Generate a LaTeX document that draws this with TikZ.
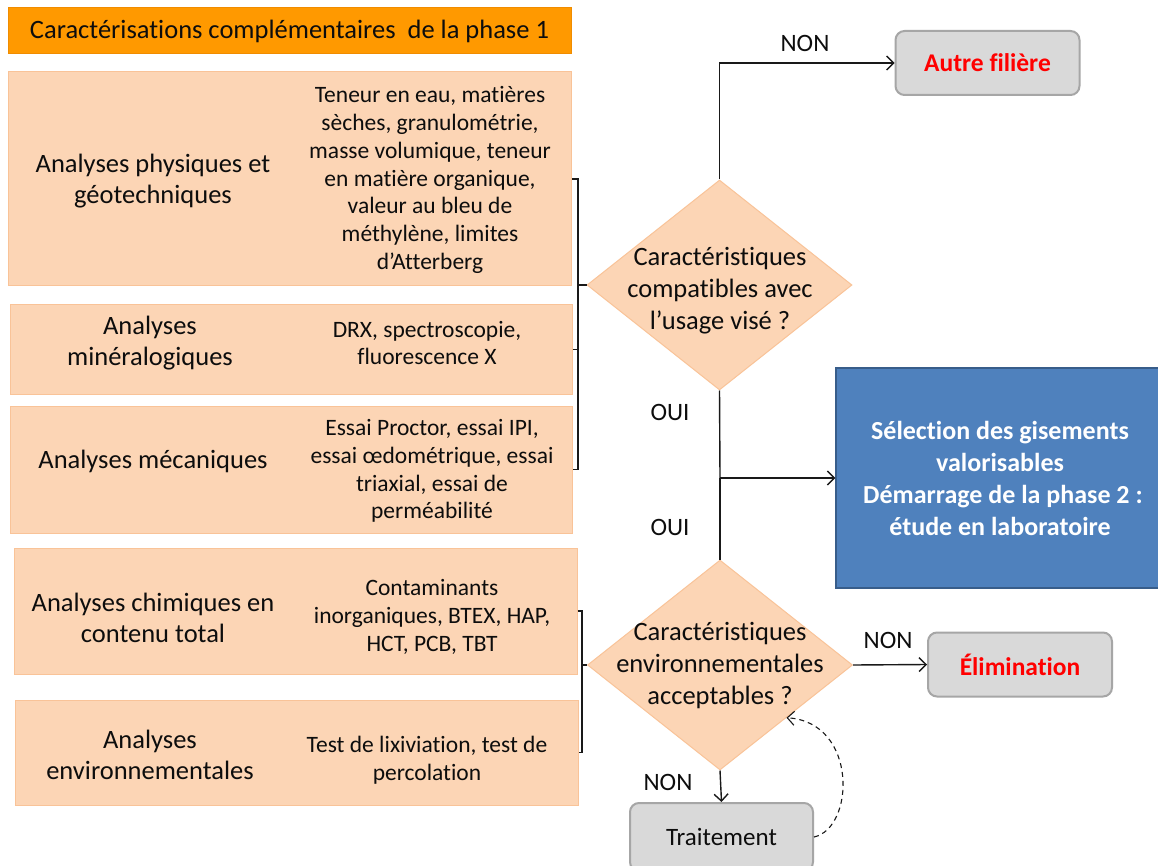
\documentclass[tikz,border=0pt]{standalone}
\usepackage{fontspec}
\setmainfont{Carlito}[Ligatures=NoCommon]
\usetikzlibrary{shapes.geometric,arrows.meta}
\definecolor{hdrorange}{HTML}{FF9900}
\definecolor{hdredge}{HTML}{F08C00}
\definecolor{paleorange}{HTML}{FCD5B5}
\definecolor{paleedge}{HTML}{F9C398}
\definecolor{bluefill}{HTML}{4F81BD}
\definecolor{blueedge}{HTML}{385D8A}
\definecolor{greyfill}{HTML}{D9D9D9}
\definecolor{greyedge}{HTML}{A6A6A6}
\definecolor{txtgrey}{HTML}{0D0D0D}
\tikzset{
  x=1pt, y=-1pt,
  anabox/.style={draw=paleedge, fill=paleorange, line width=1pt, inner sep=0pt},
  lefttxt/.style={align=center, text=txtgrey, font=\fontsize{26.5}{31}\selectfont},
  righttxt/.style={align=center, text=txtgrey, font=\fontsize{23.5}{27.7}\selectfont},
  decision/.style={diamond, draw=paleedge, fill=paleorange, line width=1pt, inner sep=0pt, minimum width=265pt, minimum height=210pt},
  dectxt/.style={align=center, text=txtgrey, font=\fontsize{26.5}{32}\selectfont},
  outbox/.style={draw=greyedge, fill=greyfill, line width=2pt, rounded corners=9pt, inner sep=0pt},
  answer/.style={text=txtgrey, font=\fontsize{25}{29}\selectfont},
  conn/.style={line width=1.4pt, draw=black!90},
  arr/.style={conn, -{Straight Barb[length=7pt,width=14pt,line width=1.4pt]}},
}
\begin{document}
\begin{tikzpicture}
\clip (0,0) rectangle (1158,866);
\fill[white] (0,0) rectangle (1158,866);

% header
\node[draw=hdredge, fill=hdrorange, line width=1pt, minimum width=563pt, minimum height=46pt, inner sep=0pt,
      text=txtgrey, font=\fontsize{26.5}{30}\selectfont] (hdr) at (289.5,31) {Caractérisations complémentaires\ \ de la phase 1};

% analysis boxes
\node[anabox, minimum width=563pt, minimum height=214pt] (box1) at (290,179) {};
\node[anabox, minimum width=562pt, minimum height=89pt] (box2) at (291,349.5) {};
\node[anabox, minimum width=562pt, minimum height=127pt] (box3) at (291,469.5) {};
\node[anabox, minimum width=563pt, minimum height=126pt] (box4) at (295.5,611) {};
\node[anabox, minimum width=563pt, minimum height=105pt] (box5) at (296.5,752.5) {};

\node[lefttxt] (l1) at (153,181) {Analyses physiques et\\géotechniques};
\node[righttxt] (r1) at (430,180) {Teneur en eau, matières\\sèches, granulométrie,\\masse volumique, teneur\\en matière organique,\\valeur au bleu de\\méthylène, limites\\d’Atterberg};
\node[lefttxt] (l2) at (150,343) {Analyses\\minéralogiques};
\node[righttxt] (r2) at (427,343) {DRX, spectroscopie,\\fluorescence X};
\node[lefttxt] (l3) at (153,461) {Analyses mécaniques};
\node[righttxt] (r3) at (432,471) {Essai Proctor, essai IPI,\\essai œdométrique, essai\\triaxial, essai de\\perméabilité};
\node[lefttxt] (l4) at (153,618) {Analyses chimiques en\\contenu total};
\node[righttxt] (r4) at (432,617) {Contaminants\\inorganiques, BTEX, HAP,\\HCT, PCB, TBT};
\node[lefttxt] (l5) at (150,755) {Analyses\\environnementales};
\node[righttxt] (r5) at (427,760) {Test de lixiviation, test de\\percolation};

% decisions
\node[decision] (d1) at (719.5,285) {};
\node[dectxt] (d1t) at (720,291) {Caractéristiques\\compatibles avec\\l’usage visé ?};
\node[decision] (d2) at (720,665) {};
\node[dectxt] (d2t) at (720,666) {Caractéristiques\\environnementales\\acceptables ?};

% outcomes
\node[outbox, minimum width=184pt, minimum height=64pt, text=red, font=\bfseries\fontsize{25.5}{29}\selectfont] (autre) at (987.5,63) {Autre filière};
\node[draw=blueedge, fill=bluefill, line width=1.5pt, minimum width=326pt, minimum height=220pt, inner sep=0pt] (sel) at (999,478) {};
\node[align=center, text=white, font=\bfseries\fontsize{26}{32}\selectfont] (selt) at (1000,478) {Sélection des gisements\\valorisables\\\ Démarrage de la phase 2 :\\étude en laboratoire};
\node[outbox, minimum width=184pt, minimum height=64pt, text=red, font=\bfseries\fontsize{25.5}{29}\selectfont] (elim) at (1020,664.5) {Élimination};
\node[outbox, minimum width=183pt, minimum height=68pt, text=txtgrey, font=\fontsize{25}{29}\selectfont] (trait) at (721.5,837) {Traitement};

% brackets gathering the analyses
\coordinate (b1) at (578,285);
\draw[conn] (box1.east) -| (b1) |- (box3.east);
\draw[conn] (box2.east) -- (box2.east -| b1);
\draw[conn] (b1) -- (d1.west);
\coordinate (b2) at (582,665);
\draw[conn] (box4.east) -| (b2) |- (box5.east);
\draw[conn] (b2) -- (d2.west);

% decision flows
\draw[arr] (d1.north) |- (autre.west);
\node[answer] (non1) at (805,43) {NON};
\coordinate (join) at (720,478);
\draw[conn] (d1.south) -- (join);
\draw[conn] (d2.north) -- (join);
\draw[arr] (join) -- (sel.west);
\node[answer] (oui1) at (670,412) {OUI};
\node[answer] (oui2) at (670,527) {OUI};
\draw[arr] (d2.east) -- (elim.west);
\node[answer] (non2) at (888,640) {NON};
\draw[arr] (d2.south) -- (trait.north);
\node[answer] (non3) at (668,782) {NON};
\draw[conn, line width=1.1pt, dash pattern=on 5pt off 4pt, -{Straight Barb[length=7pt,width=14pt,line width=1.1pt]}]
  (trait.east) .. controls (855,828) and (858,722) .. (d2.south east);
\end{tikzpicture}
\end{document}
